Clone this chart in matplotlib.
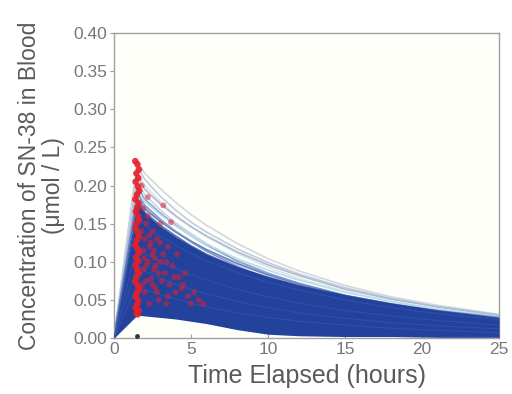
import matplotlib
matplotlib.use("Agg")
import matplotlib.pyplot as plt

plt.rcParams['font.family'] = ['Liberation Sans', 'DejaVu Sans']

# sample times (hours)
time_h = [0, 1.5, 2, 3, 4, 5, 6, 8, 10, 12, 15, 18, 21, 25]

# envelope of the bulk of simulated patients
band_upper = [0, 0.178, 0.164, 0.147, 0.133, 0.121, 0.110, 0.094, 0.081, 0.070, 0.057, 0.046, 0.037, 0.027]
band_lower = [0, 0.030, 0.029, 0.027, 0.025, 0.022, 0.019, 0.011, 0.005, 0.003, 0.002, 0.002, 0.001, 0.001]

# high-exposure individual curves
high_curves = [
    [0, 0.232, 0.216, 0.196, 0.178, 0.162, 0.148, 0.124, 0.104, 0.088, 0.069, 0.054, 0.043, 0.031],
    [0, 0.226, 0.208, 0.186, 0.168, 0.152, 0.139, 0.117, 0.099, 0.084, 0.066, 0.052, 0.041, 0.030],
    [0, 0.218, 0.200, 0.179, 0.161, 0.146, 0.133, 0.111, 0.093, 0.078, 0.061, 0.048, 0.038, 0.028],
    [0, 0.212, 0.195, 0.176, 0.160, 0.146, 0.134, 0.113, 0.096, 0.082, 0.064, 0.051, 0.041, 0.030],
    [0, 0.205, 0.188, 0.168, 0.151, 0.137, 0.124, 0.102, 0.085, 0.071, 0.055, 0.043, 0.034, 0.025],
    [0, 0.198, 0.182, 0.164, 0.148, 0.134, 0.122, 0.101, 0.085, 0.072, 0.056, 0.044, 0.035, 0.026],
    [0, 0.194, 0.179, 0.162, 0.147, 0.134, 0.123, 0.104, 0.089, 0.076, 0.060, 0.048, 0.038, 0.028],
    [0, 0.190, 0.174, 0.156, 0.140, 0.126, 0.114, 0.094, 0.078, 0.065, 0.050, 0.039, 0.031, 0.023],
    [0, 0.186, 0.171, 0.154, 0.140, 0.127, 0.116, 0.097, 0.082, 0.070, 0.055, 0.044, 0.035, 0.026],
    [0, 0.183, 0.169, 0.153, 0.139, 0.127, 0.116, 0.098, 0.083, 0.071, 0.056, 0.045, 0.036, 0.027],
    [0, 0.180, 0.165, 0.148, 0.134, 0.121, 0.110, 0.092, 0.077, 0.065, 0.051, 0.041, 0.033, 0.024],
]
high_colors = ['#d3d7df', '#c2cbdd', '#dde2ea', '#aebbd6', '#c9d3e6', '#8fa3cf', '#b4e0ea',
               '#7f95c8', '#a7b6d8', '#6d86c2', '#5874bb']

# curves inside the main band
band_curves = [
    [0, 0.160, 0.148, 0.134, 0.122, 0.111, 0.101, 0.086, 0.073, 0.063, 0.050, 0.040, 0.032, 0.024],
    [0, 0.120, 0.111, 0.100, 0.091, 0.083, 0.076, 0.064, 0.054, 0.046, 0.036, 0.029, 0.023, 0.017],
    [0, 0.095, 0.088, 0.079, 0.071, 0.064, 0.058, 0.048, 0.040, 0.033, 0.026, 0.020, 0.016, 0.012],
    [0, 0.070, 0.064, 0.057, 0.051, 0.046, 0.041, 0.033, 0.027, 0.022, 0.017, 0.013, 0.010, 0.007],
]

# observed concentrations: samples taken at end of infusion
peak_t = [1.38, 1.52, 1.62, 1.45, 1.58, 1.40, 1.55, 1.64, 1.48, 1.38, 1.60, 1.50, 1.42, 1.57,
          1.63, 1.45, 1.40, 1.55, 1.60, 1.48, 1.38, 1.52, 1.62, 1.44, 1.58, 1.40, 1.50, 1.60,
          1.45, 1.38, 1.55, 1.62, 1.48, 1.42, 1.58, 1.50, 1.40, 1.60, 1.46, 1.54]
peak_c = [0.232, 0.228, 0.221, 0.216, 0.210, 0.205, 0.199, 0.193, 0.188, 0.182, 0.177, 0.171,
          0.166, 0.160, 0.155, 0.150, 0.144, 0.139, 0.133, 0.128, 0.122, 0.117, 0.112, 0.106,
          0.101, 0.096, 0.090, 0.085, 0.080, 0.074, 0.069, 0.064, 0.059, 0.054, 0.049, 0.044,
          0.040, 0.036, 0.033, 0.031]

# observed concentrations: later samples
late_t = [1.9, 2.1, 2.0, 2.3, 2.2, 2.5, 2.6, 2.8, 3.0, 3.2, 2.4, 2.7, 3.0, 3.3, 3.5, 3.6,
          3.8, 4.0, 4.2, 4.5, 4.8, 5.2, 5.5, 5.8, 2.0, 2.3, 2.9, 3.4, 1.9, 2.1, 3.1, 4.1,
          3.7, 2.5, 1.8, 2.2, 2.6, 2.9, 3.5, 2.0, 2.4, 1.8, 2.2, 2.7, 3.2, 3.9, 4.4, 1.9,
          2.5, 3.0, 2.1, 2.8, 3.4, 4.6, 5.0, 2.3, 1.85, 2.65]
late_c = [0.170, 0.150, 0.130, 0.120, 0.100, 0.110, 0.090, 0.130, 0.150, 0.174, 0.078, 0.065,
          0.100, 0.085, 0.120, 0.070, 0.095, 0.060, 0.080, 0.070, 0.055, 0.060, 0.050, 0.045,
          0.060, 0.045, 0.050, 0.045, 0.090, 0.075, 0.075, 0.110, 0.152, 0.140, 0.200, 0.185,
          0.115, 0.085, 0.055, 0.105, 0.125, 0.140, 0.160, 0.095, 0.110, 0.080, 0.065, 0.115,
          0.070, 0.125, 0.095, 0.060, 0.100, 0.085, 0.045, 0.135, 0.070, 0.105]

fig = plt.figure(figsize=(5.12, 3.94), dpi=100)
ax = fig.add_axes([0.2227, 0.142, 0.752, 0.774])
ax.set_facecolor('#fffffa')

for curve, col in zip(high_curves, high_colors):
    ax.plot(time_h, curve, color=col, lw=1.2, zorder=2)

ax.fill_between(time_h, band_lower, band_upper, color='#23429c', lw=0, zorder=3)
for curve in band_curves:
    ax.plot(time_h, curve, color='#3555b0', lw=0.8, alpha=0.7, zorder=4)

ax.scatter(peak_t, peak_c, s=22, color='#e8202a', alpha=0.9, edgecolors='none', zorder=5)
ax.scatter(late_t, late_c, s=18, color='#e0202e', alpha=0.55, edgecolors='none', zorder=5)
ax.scatter([1.5], [0.003], s=6, color='#333333', zorder=5)

ax.set_xlim(0, 25)
ax.set_ylim(0, 0.40)
ax.set_xticks([0, 5, 10, 15, 20, 25])
ax.set_yticks([0, 0.05, 0.10, 0.15, 0.20, 0.25, 0.30, 0.35, 0.40])
ax.set_yticklabels(['0.00', '0.05', '0.10', '0.15', '0.20', '0.25', '0.30', '0.35', '0.40'])

for s in ax.spines.values():
    s.set_color('#a0a0a0')
    s.set_linewidth(1.0)
ax.tick_params(colors='#a0a0a0', labelcolor='#777777', labelsize=12.5, length=3)
ax.tick_params(axis='y', direction='out', pad=2)
ax.tick_params(axis='x', direction='in', pad=3)

ax.set_xlabel('Time Elapsed (hours)', fontsize=18, color='#5a5a5a', labelpad=5)
ax.set_ylabel('Concentration of SN-38 in Blood\n(\u03bcmol / L)', fontsize=16.5,
              color='#5a5a5a', labelpad=6, linespacing=1.05)

fig.savefig('out.png', dpi=100)
